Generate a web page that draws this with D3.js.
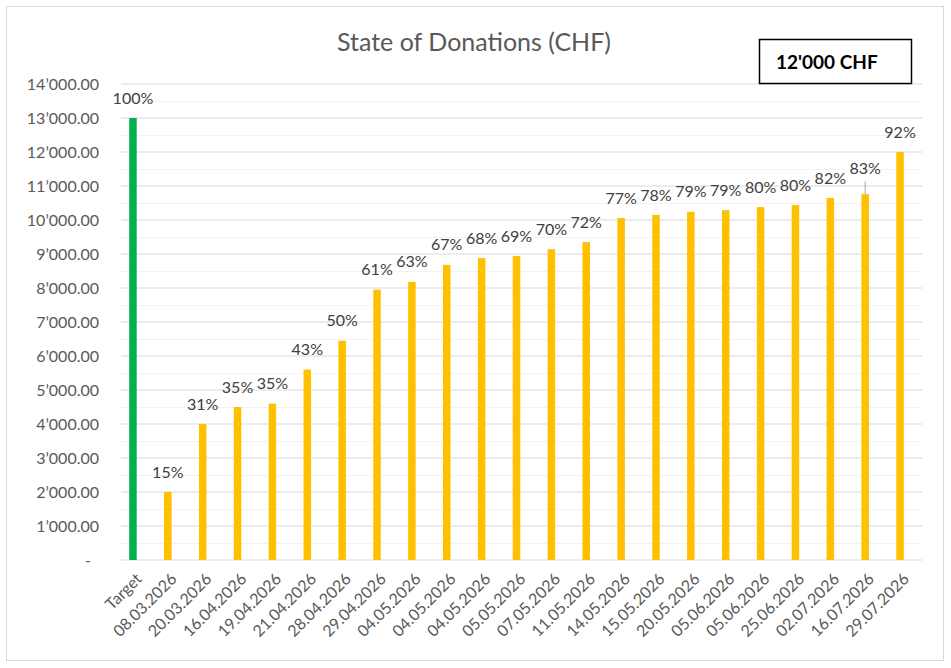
<!DOCTYPE html>
<html>
<head>
<meta charset="utf-8">
<script src="https://cdn.jsdelivr.net/npm/d3@7"></script>
<style>
  body { margin: 0; background: #fff; }
  text { font-family: Lato, "Open Sans", sans-serif; }
</style>
</head>
<body>
<script>
"use strict";

// categories (dates repeat, so bars are keyed by index)
const labels = ["Target", "08.03.2026", "20.03.2026", "16.04.2026", "19.04.2026",
  "21.04.2026", "28.04.2026", "29.04.2026", "04.05.2026", "04.05.2026", "04.05.2026",
  "05.05.2026", "07.05.2026", "11.05.2026", "14.05.2026", "15.05.2026", "20.05.2026",
  "05.06.2026", "05.06.2026", "25.06.2026", "02.07.2026", "16.07.2026", "29.07.2026"];

const amounts = [13000, 2000, 4000, 4500, 4600, 5600, 6450, 7950, 8180, 8680, 8880,
  8940, 9140, 9350, 10060, 10150, 10240, 10290, 10380, 10440, 10650, 10760, 12000];

const yTicks = [0, 1000, 2000, 3000, 4000, 5000, 6000, 7000, 8000, 9000, 10000,
  11000, 12000, 13000, 14000];

const target = amounts[0];
const goalText = "12'000 CHF";

const W = 951, H = 668;
const plot = {left: 121, right: 922, top: 84, bottom: 560};

const svg = d3.select("body").append("svg")
  .attr("width", W).attr("height", H);

svg.append("rect")
  .attr("x", 6.5).attr("y", 6.5).attr("width", 937).attr("height", 654)
  .attr("fill", "#fff").attr("stroke", "#d9d9d9");

const x = d3.scaleBand()
  .domain(d3.range(labels.length))
  .range([115.6, 917.4])
  .paddingInner(0.785)
  .paddingOuter(0.39);

const y = d3.scaleLinear().domain([0, 14000]).range([plot.bottom, plot.top]);

// minor gridlines
svg.append("g").selectAll("line")
  .data(d3.range(500, 14000, 1000))
  .join("line")
  .attr("x1", plot.left).attr("x2", plot.right)
  .attr("y1", d => y(d) + 0.5).attr("y2", d => y(d) + 0.5)
  .attr("stroke", "#f2f2f2").attr("stroke-width", 1);

// major gridlines
svg.append("g").selectAll("line")
  .data(yTicks)
  .join("line")
  .attr("x1", plot.left).attr("x2", plot.right)
  .attr("y1", d => y(d)).attr("y2", d => y(d))
  .attr("stroke", "#d9d9d9").attr("stroke-width", 1.2);

// y axis labels
const fmt = v => v === 0 ? "-" : d3.format(",.2f")(v).replace(/,/g, "\u2019");
svg.append("g").selectAll("text")
  .data(yTicks)
  .join("text")
  .attr("x", d => d === 0 ? 91 : 99)
  .attr("y", d => y(d))
  .attr("dy", "0.35em")
  .attr("text-anchor", "end")
  .attr("font-size", 16)
  .attr("fill", "#595959")
  .text(fmt);

// bars
svg.append("g").selectAll("rect")
  .data(amounts)
  .join("rect")
  .attr("x", (d, i) => x(i))
  .attr("y", d => y(d))
  .attr("width", x.bandwidth())
  .attr("height", d => y(0) - y(d))
  .attr("fill", (d, i) => i === 0 ? "#00b050" : "#ffc000");

// percentage labels (the 16.07 label was dragged up with a leader line)
const lift = i => i === labels.length - 2 ? 6 : 0;
const cx = i => x(i) + x.bandwidth() / 2;

svg.append("g").selectAll("text")
  .data(amounts)
  .join("text")
  .attr("x", (d, i) => cx(i))
  .attr("y", (d, i) => y(d) - 20 - lift(i))
  .attr("dy", "0.35em")
  .attr("text-anchor", "middle")
  .attr("font-size", 16)
  .attr("fill", "#404040")
  .text(d => Math.round(d / target * 100) + "%");

const li = labels.length - 2;
svg.append("line")
  .attr("x1", cx(li)).attr("x2", cx(li))
  .attr("y1", y(amounts[li]) - 13).attr("y2", y(amounts[li]))
  .attr("stroke", "#a6a6a6").attr("stroke-width", 1);

// x axis labels
svg.append("g").selectAll("text")
  .data(labels)
  .join("text")
  .attr("transform", (d, i) => `translate(${cx(i) + 6},${plot.bottom + 16}) rotate(-45)`)
  .attr("dy", "0.35em")
  .attr("text-anchor", "end")
  .attr("font-size", 16)
  .attr("fill", "#595959")
  .text(d => d);

// title
svg.append("text")
  .attr("x", 474).attr("y", 50.5)
  .attr("text-anchor", "middle")
  .attr("font-size", 25)
  .attr("fill", "#595959")
  .text("State of Donations (CHF)");

// goal box
svg.append("rect")
  .attr("x", 759.5).attr("y", 39.5).attr("width", 152).attr("height", 44)
  .attr("fill", "#fff").attr("stroke", "#000").attr("stroke-width", 1.5);

svg.append("text")
  .attr("x", 776).attr("y", 62)
  .attr("dy", "0.35em")
  .attr("font-size", 19)
  .attr("font-weight", "bold")
  .attr("fill", "#000")
  .text(goalText);
</script>
</body>
</html>
